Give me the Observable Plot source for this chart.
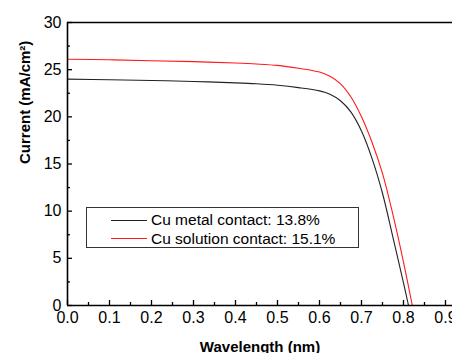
<!DOCTYPE html>
<html>
<head>
<meta charset="utf-8">
<script src="https://cdn.jsdelivr.net/npm/d3@7"></script>
<script src="https://cdn.jsdelivr.net/npm/@observablehq/plot@0.6"></script>
<style>
  body { margin: 0; background: #fff; overflow: hidden; }
  #wrap { position: relative; width: 452px; height: 353px; font-family: "Liberation Sans", Arial, sans-serif; }
  #legend { position: absolute; left: 86px; top: 207px; width: 273px; height: 41px; box-sizing: border-box;
            border: 1px solid #333; background: #fff; padding-top: 3px; }
  .row { display: flex; align-items: center; height: 18.5px; font-size: 15.5px; color: #000; }
  .sw { width: 36px; height: 1px; margin-left: 24px; margin-right: 4px; }
</style>
</head>
<body>
<div id="wrap"></div>
<script>
// Data
const metalV = [0, 0.1, 0.2, 0.3, 0.4, 0.45, 0.5, 0.55, 0.6, 0.625, 0.65, 0.675, 0.7, 0.725, 0.75, 0.775, 0.8, 0.812];
const metalJ = [24.0, 23.93, 23.85, 23.75, 23.6, 23.5, 23.35, 23.1, 22.75, 22.4, 21.7, 20.5, 18.5, 15.6, 11.9, 7.2, 2.4, 0];
const solutionV = [0, 0.1, 0.2, 0.3, 0.4, 0.45, 0.5, 0.55, 0.6, 0.625, 0.65, 0.675, 0.7, 0.725, 0.75, 0.775, 0.8, 0.821];
const solutionJ = [26.1, 26.05, 25.95, 25.85, 25.7, 25.6, 25.45, 25.15, 24.75, 24.3, 23.5, 22.1, 20.0, 17.3, 14.0, 9.6, 4.6, 0];
const seriesNames = ["Cu metal contact: 13.8%", "Cu solution contact: 15.1%"];
const seriesColors = ["#222222", "#ff1a1a"];
const xMajor = [0, 0.1, 0.2, 0.3, 0.4, 0.5, 0.6, 0.7, 0.8, 0.9];
const xMinor = [0.05, 0.15, 0.25, 0.35, 0.45, 0.55, 0.65, 0.75, 0.85];
const yMajor = [0, 5, 10, 15, 20, 25, 30];
const yMinor = [2.5, 7.5, 12.5, 17.5, 22.5, 27.5];
const xTitle = "Wavelength (nm)";
const yTitle = "Current (mA/cm\u00B2)";

const metal = metalV.map((v, i) => ({v, j: metalJ[i]}));
const solution = solutionV.map((v, i) => ({v, j: solutionJ[i]}));

const W = 452, H = 353, mL = 67, mT = 22, mB = 48, mR = 0;
const ph = H - mT - mB, pw = W - mL - mR;
const font = "Liberation Sans, Arial, sans-serif";

const chart = Plot.plot({
  width: W, height: H,
  marginLeft: mL, marginTop: mT, marginBottom: mB, marginRight: mR,
  style: {fontFamily: font, fontSize: "16px", color: "#000", background: "#fff", overflow: "hidden"},
  x: {domain: [0, 0.9167], axis: null},
  y: {domain: [0, 30], axis: null},
  marks: [
    Plot.line(metal, {x: "v", y: "j", stroke: seriesColors[0], strokeWidth: 1.1, curve: "catmull-rom"}),
    Plot.line(solution, {x: "v", y: "j", stroke: seriesColors[1], strokeWidth: 1.1, curve: "catmull-rom"}),
    // frame
    Plot.ruleY([0], {stroke: "#000", strokeWidth: 1.6}),
    Plot.ruleY([30], {stroke: "#000", strokeWidth: 1.6}),
    Plot.ruleX([0], {stroke: "#000", strokeWidth: 1.6}),
    // inward ticks
    Plot.tickX(xMajor, {x: d => d, insetTop: ph - 5, stroke: "#000", strokeWidth: 1.3}),
    Plot.tickX(xMinor, {x: d => d, insetTop: ph - 3, stroke: "#000", strokeWidth: 1.3}),
    Plot.tickY(yMajor, {y: d => d, insetRight: pw - 5, stroke: "#000", strokeWidth: 1.3}),
    Plot.tickY(yMinor, {y: d => d, insetRight: pw - 3, stroke: "#000", strokeWidth: 1.3}),
    // tick labels
    Plot.axisX({ticks: xMajor, tickSize: 0, tickPadding: 6, tickFormat: d3.format(".1f"), label: null, fontSize: 16}),
    Plot.axisY({ticks: yMajor, tickSize: 0, tickPadding: 6, tickFormat: d3.format("d"), label: null, fontSize: 16}),
    // axis titles
    Plot.text([xTitle], {frameAnchor: "bottom", dy: 46, fontWeight: "bold", fontSize: 15, fill: "#000"}),
    Plot.text([yTitle], {frameAnchor: "left", dx: -42, rotate: -90, fontWeight: "bold", fontSize: 15, fill: "#000"})
  ]
});

const wrap = document.getElementById("wrap");
wrap.appendChild(chart);

const legend = document.createElement("div");
legend.id = "legend";
seriesNames.forEach((name, i) => {
  const row = document.createElement("div");
  row.className = "row";
  const sw = document.createElement("span");
  sw.className = "sw";
  sw.style.background = seriesColors[i];
  const t = document.createElement("span");
  t.textContent = name;
  row.appendChild(sw);
  row.appendChild(t);
  legend.appendChild(row);
});
wrap.appendChild(legend);
</script>
</body>
</html>
